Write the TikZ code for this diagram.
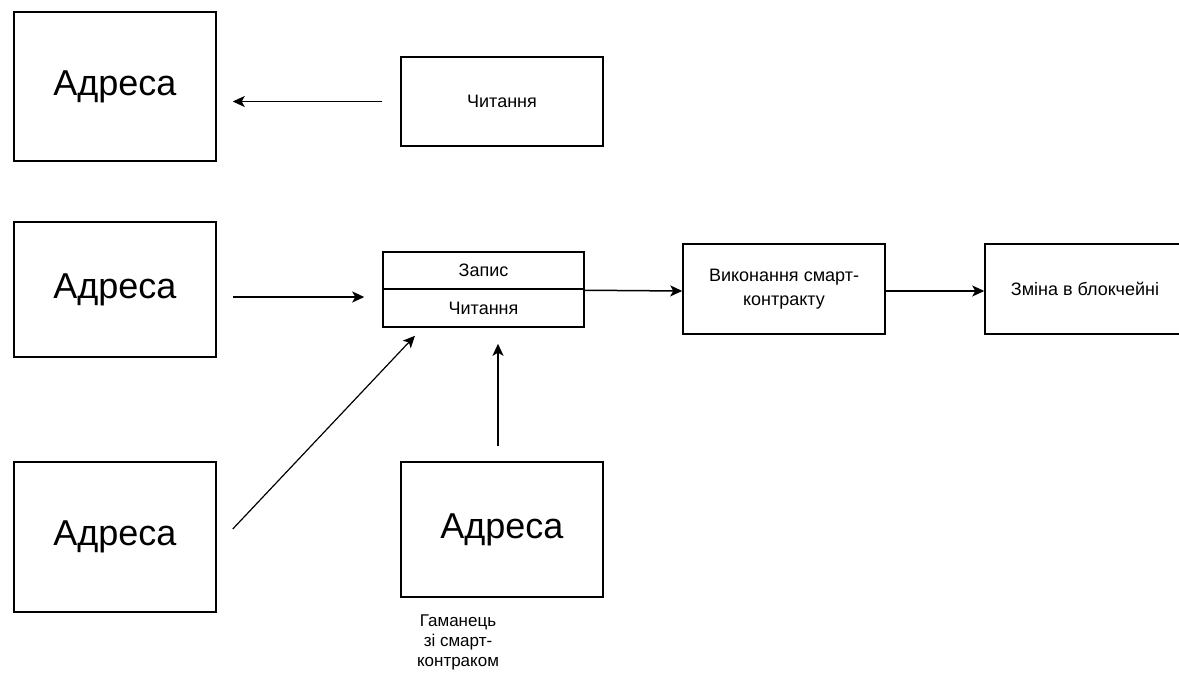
\documentclass[tikz,border=0pt]{standalone}
\usepackage{fontspec}
\setmainfont{Liberation Sans}
\usetikzlibrary{arrows.meta}
\begin{document}
\begin{tikzpicture}[x=1pt,y=-1pt,
  box/.style={draw=black,line width=1.5pt,rectangle,inner sep=0pt,anchor=center,align=center},
  big/.style={font=\fontsize{36}{40}\selectfont},
  small/.style={font=\fontsize{18}{24}\selectfont},
  arr/.style={draw=black,line width=1.5pt,-{Stealth[length=12pt,width=11pt,inset=3pt]}}]
\useasboundingbox (0,0) rectangle (1179,674);
% boxes
\node[box,big,minimum width=202pt,minimum height=149pt] (A1) at (115,86.5) {Адреса};
\node[box,big,minimum width=202pt,minimum height=135pt] (A2) at (115,289.5) {Адреса};
\node[box,big,minimum width=202pt,minimum height=150pt] (A3) at (115,537) {Адреса};
\node[box,big,minimum width=202pt,minimum height=135pt] (A4) at (502,529.5) {Адреса};
\node[box,small,minimum width=202pt,minimum height=89pt] (R) at (502,101.5) {Читання};
\node[box,small,minimum width=201pt,minimum height=37pt] (comptop) at (483.5,270.5) {Запис};
\node[box,small,minimum width=201pt,minimum height=38pt] (compbot) at (483.5,308) {Читання};
\node[box,small,minimum width=202pt,minimum height=90pt] (exec) at (784,289) {Виконання смарт-\\контракту};
\node[box,small,minimum width=200pt,minimum height=90pt] (zm) at (1085,289) {Зміна в блокчейні};
\node[font=\fontsize{17}{20}\selectfont,align=center] (lbl) at (458,642) {Гаманець\\зі смарт-\\контраком};
% connectors
\draw[arr,shorten <=18pt,shorten >=16pt] (R.west) -- (A1.east |- R.west);
\coordinate (a2s) at ([shift={(16pt,-7.5pt)}]A2.east);
\draw[arr] (a2s) -- ([xshift=-18pt]a2s -| compbot.west);
\coordinate (d1) at ([shift={(16pt,8pt)}]A3.east);
\coordinate (d2) at ([shift={(-68.5pt,-8pt)}]compbot.south);
\draw[arr,line width=1.2pt] (d1) -- (d2);
\coordinate (v1) at ([shift={(-4pt,15pt)}]A4.north);
\draw[arr] (v1) -- ([yshift=-16pt]v1 |- compbot.south);
\draw[arr] ([yshift=-2pt]compbot.north east) -- ([yshift=-2pt]exec.west);
\draw[arr] ([yshift=-2pt]exec.east) -- ([yshift=-2pt]zm.west);
\end{tikzpicture}
\end{document}
